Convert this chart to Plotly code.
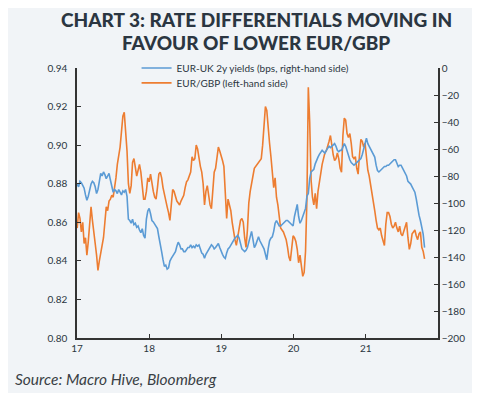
import pandas as pd
import plotly.graph_objects as go

# Weekly observations starting first trading week of 2017
start_date = "2017-01-02"

eurgbp = [
    0.857, 0.865, 0.862, 0.855, 0.860, 0.849, 0.852, 0.843, 0.850, 0.860,
    0.868, 0.861, 0.853, 0.849, 0.843, 0.835, 0.840, 0.844, 0.847, 0.852,
    0.860, 0.868, 0.866, 0.871, 0.872, 0.874, 0.873, 0.877, 0.883, 0.890,
    0.894, 0.899, 0.907, 0.915, 0.917, 0.906, 0.897, 0.880, 0.875, 0.879,
    0.891, 0.893, 0.887, 0.884, 0.887, 0.890, 0.886, 0.879, 0.872, 0.872,
    0.876, 0.883, 0.881, 0.885, 0.880, 0.876, 0.873, 0.872, 0.878, 0.885,
    0.886, 0.883, 0.878, 0.874, 0.871, 0.868, 0.865, 0.861, 0.869, 0.877,
    0.876, 0.873, 0.871, 0.870, 0.869, 0.871, 0.873, 0.874, 0.878, 0.881,
    0.882, 0.884, 0.886, 0.894, 0.892, 0.893, 0.900, 0.898, 0.893, 0.889,
    0.886, 0.880, 0.869, 0.876, 0.879, 0.873, 0.869, 0.867, 0.880, 0.886,
    0.888, 0.894, 0.899, 0.897, 0.895, 0.892, 0.889, 0.878, 0.862, 0.872,
    0.869, 0.866, 0.860, 0.855, 0.851, 0.848, 0.852, 0.858, 0.861, 0.862,
    0.860, 0.852, 0.847, 0.856, 0.870, 0.876, 0.881, 0.884, 0.888, 0.889,
    0.890, 0.891, 0.892, 0.893, 0.900, 0.910, 0.920, 0.918, 0.908, 0.901,
    0.894, 0.883, 0.878, 0.883, 0.873, 0.869, 0.862, 0.857, 0.856, 0.855,
    0.853, 0.851, 0.847, 0.842, 0.840, 0.848, 0.853, 0.852, 0.850, 0.846,
    0.839, 0.843, 0.836, 0.832, 0.834, 0.845, 0.872, 0.930, 0.912, 0.882,
    0.873, 0.869, 0.875, 0.867, 0.876, 0.881, 0.885, 0.890, 0.893, 0.896,
    0.897, 0.899, 0.902, 0.905, 0.899, 0.895, 0.892, 0.893, 0.896, 0.893,
    0.888, 0.886, 0.905, 0.914, 0.913, 0.906, 0.904, 0.906, 0.901, 0.894,
    0.893, 0.894, 0.888, 0.885, 0.895, 0.903, 0.902, 0.899, 0.901, 0.893,
    0.887, 0.884, 0.880, 0.875, 0.872, 0.866, 0.861, 0.857, 0.856, 0.857,
    0.853, 0.850, 0.848, 0.859, 0.865, 0.865, 0.863, 0.859, 0.857, 0.858,
    0.860, 0.857, 0.855, 0.858, 0.854, 0.853, 0.855, 0.857, 0.860, 0.852,
    0.846, 0.849, 0.854, 0.855, 0.856, 0.853, 0.851, 0.854, 0.855, 0.847,
    0.845, 0.841,
]

eur_uk_2y = [
    -86, -88, -84, -85, -87, -89, -94, -98, -95, -89,
    -86, -84, -85, -88, -93, -90, -83, -78, -80, -77,
    -79, -82, -80, -78, -83, -89, -92, -90, -91, -93,
    -90, -92, -94, -91, -92, -90, -95, -112, -113, -115,
    -112, -116, -115, -118, -117, -120, -122, -119, -124, -126,
    -112, -106, -104, -108, -113, -114, -116, -117, -119, -125,
    -132, -136, -142, -147, -146, -149, -148, -143, -141, -139,
    -137, -136, -132, -129, -131, -134, -134, -136, -136, -134,
    -133, -133, -131, -133, -132, -133, -131, -132, -131, -134,
    -137, -138, -141, -138, -136, -135, -132, -131, -132, -134,
    -133, -131, -130, -133, -136, -138, -140, -141, -137, -134,
    -133, -131, -130, -128, -126, -125, -124, -126, -130, -134,
    -135, -136, -135, -133, -129, -124, -121, -127, -133, -131,
    -127, -125, -128, -130, -132, -134, -138, -142, -134, -128,
    -126, -125, -121, -115, -113, -115, -117, -117, -116, -115,
    -114, -113, -113, -114, -115, -116, -117, -110, -104, -101,
    -110, -115, -113, -109, -107, -104, -95, -93, -82, -77,
    -76, -75, -71, -68, -66, -64, -62, -61, -62, -63,
    -61, -59, -58, -59, -58, -57, -56, -58, -61, -62,
    -61, -61, -58, -56, -58, -62, -65, -68, -70, -71,
    -72, -71, -70, -69, -68, -67, -64, -60, -55, -52,
    -56, -58, -59, -61, -63, -66, -72, -76, -77, -76,
    -75, -74, -73, -73, -72, -72, -71, -70, -69, -68,
    -68, -71, -73, -72, -72, -74, -76, -77, -80, -84,
    -85, -86, -88, -90, -92, -97, -104, -109, -113, -119,
    -123, -133,
]

year_ticks = ["2017-01-01", "2018-01-01", "2019-01-01", "2020-01-01", "2021-01-01"]
year_labels = ["17", "18", "19", "20", "21"]

title_lines = ["CHART 3: RATE DIFFERENTIALS MOVING IN", "FAVOUR OF LOWER EUR/GBP"]
source_text = "Source: Macro Hive, Bloomberg"

dates = pd.date_range(start_date, periods=len(eurgbp), freq="7D")

BG = "#f1f4f7"
TXT = "#2b3641"
FONT = "Lato"

# page body has an 8px margin, so the figure is 8px smaller on each axis
W, H = 472, 385

fig = go.Figure()
fig.add_trace(go.Scatter(
    x=dates, y=eur_uk_2y, yaxis="y2", mode="lines",
    name="EUR-UK 2y yields (bps, right-hand side)",
    line=dict(color="#5b9bd5", width=1.6), legend="legend",
))
fig.add_trace(go.Scatter(
    x=dates, y=eurgbp, yaxis="y", mode="lines",
    name="EUR/GBP (left-hand side)",
    line=dict(color="#ed7d31", width=1.6), legend="legend2",
))

axis_common = dict(
    showgrid=False, zeroline=False, showline=True, linecolor="#333333", linewidth=1.5,
    ticks="inside", ticklen=4, tickcolor="#333333", tickwidth=1,
    tickfont=dict(family=FONT, size=10, color=TXT),
)

legend_common = dict(
    xanchor="left", yanchor="middle",
    bgcolor="rgba(0,0,0,0)", borderwidth=0,
    font=dict(family=FONT, size=10, color=TXT),
    itemwidth=30,
)

fig.update_layout(
    width=W, height=H,
    paper_bgcolor=BG, plot_bgcolor=BG,
    margin=dict(l=69, r=42, t=60, b=55),
    font=dict(family=FONT, color=TXT),
    xaxis=dict(
        **axis_common,
        range=["2017-01-01", "2022-01-01"],
        tickvals=year_ticks, ticktext=year_labels,
    ),
    yaxis=dict(
        **axis_common,
        range=[0.80, 0.94], dtick=0.02, tickformat=".2f",
        ticklabelstandoff=6,
    ),
    yaxis2=dict(
        **axis_common,
        overlaying="y", side="right",
        range=[-200, 0], dtick=20,
    ),
    legend=dict(**legend_common, x=0.165, y=1.0),
    legend2=dict(**legend_common, x=0.165, y=0.945),
    showlegend=True,
)

for line_text, ypos in zip(title_lines, [1.178, 1.093]):
    fig.add_annotation(
        text=line_text, xref="paper", yref="paper", x=0.496, y=ypos,
        xanchor="center", yanchor="middle", showarrow=False,
        font=dict(family=FONT, size=19, color=TXT, weight=900),
    )

fig.add_annotation(
    text="<i>" + source_text + "</i>",
    xref="paper", yref="paper", x=-0.176, y=-0.11,
    xanchor="left", yanchor="top", showarrow=False,
    font=dict(family=FONT, size=15.5, color="#3a3f45"),
)

fig.write_html("out.html")
